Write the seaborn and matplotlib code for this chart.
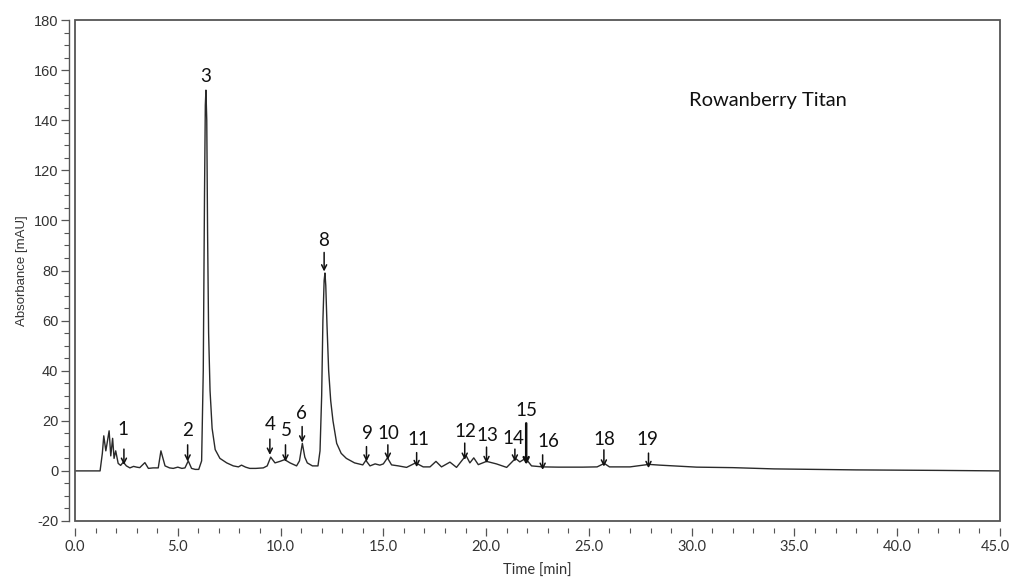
import numpy as np
import pandas as pd
import matplotlib
matplotlib.use("Agg")
import matplotlib.pyplot as plt
import matplotlib.transforms as mtransforms
from matplotlib.patches import Rectangle
from matplotlib.ticker import MultipleLocator, FormatStrFormatter
import seaborn as sns

# ---- trace vertices (time [min], absorbance [mAU]) ----
time_min = [0.0, 1.22, 1.33, 1.40, 1.50, 1.66, 1.74, 1.83, 1.90, 1.98, 2.10, 2.22, 2.35, 2.50,
            2.67, 2.85, 3.0, 3.15, 3.40, 3.57, 3.80, 4.05, 4.18, 4.38, 4.60, 4.78, 5.0, 5.20,
            5.35, 5.51, 5.67, 5.85, 6.02, 6.16, 6.24, 6.30, 6.34, 6.37, 6.41, 6.45, 6.50,
            6.57, 6.67, 6.82, 7.05, 7.38, 7.70, 7.95, 8.10, 8.30, 8.50, 8.80, 9.16, 9.35,
            9.52, 9.73, 9.97, 10.20, 10.46, 10.78, 10.92, 11.06, 11.18, 11.30, 11.55, 11.82,
            11.92, 12.00, 12.06, 12.12, 12.16, 12.20, 12.26, 12.34, 12.44, 12.55, 12.73,
            12.95, 13.20, 13.60, 14.00, 14.15, 14.35, 14.60, 14.83, 15.00, 15.20, 15.40,
            15.73, 16.13, 16.57, 16.94, 17.27, 17.56, 17.83, 18.24, 18.56, 19.02, 19.21,
            19.40, 19.62, 20.02, 20.50, 21.00, 21.43, 21.64, 21.92, 22.21, 22.75, 23.5,
            24.70, 25.40, 25.75, 26.00, 27.00, 27.92, 28.45, 30.24, 32.0, 34.0, 38.0, 42.0,
            45.0]
absorbance = [0.0, 0.0, 7.0, 14.0, 8.0, 16.0, 6.0, 13.0, 5.0, 8.0, 3.0, 2.2, 3.5, 2.0,
              1.2, 1.8, 1.5, 1.3, 3.3, 1.0, 1.2, 1.2, 8.0, 2.0, 1.2, 1.0, 1.5, 1.0,
              1.2, 4.0, 1.0, 0.6, 0.6, 4.0, 40.0, 110.0, 146.0, 152.0, 140.0, 95.0, 55.0,
              32.0, 17.0, 8.5, 5.0, 3.2, 2.0, 1.6, 2.3, 1.5, 1.0, 1.0, 1.2, 2.0,
              5.5, 3.2, 3.8, 4.5, 3.2, 2.0, 4.0, 11.0, 5.5, 3.2, 2.0, 2.0,
              8.0, 30.0, 60.0, 76.0, 79.0, 74.0, 58.0, 40.0, 28.0, 20.0, 11.0,
              7.0, 5.0, 3.2, 2.4, 4.2, 2.0, 2.8, 2.3, 2.8, 5.2, 2.4,
              2.0, 1.4, 3.2, 1.6, 1.6, 3.8, 1.6, 3.5, 1.4, 6.2, 3.2,
              5.2, 2.5, 3.8, 2.8, 1.4, 5.0, 3.6, 5.0, 2.0, 1.6, 1.5,
              1.5, 1.6, 3.0, 1.6, 1.6, 2.6, 2.3, 1.5, 1.3, 0.8, 0.4, 0.2,
              0.0]

# ---- peak annotations ----
peak_labels = ["1", "2", "3", "4", "5", "6", "8", "9", "10", "11", "12", "13",
               "14", "15", "16", "18", "19"]
label_x = [2.35, 5.46, 6.37, 9.48, 10.26, 11.04, 12.11, 14.22, 15.24, 16.70, 18.97,
           20.05, 21.35, 21.98, 23.05, 25.73, 27.85]
label_y = [16.7, 16.1, 157.6, 18.4, 16.1, 23.0, 92.0, 15.0, 15.0, 12.7, 15.7,
           14.0, 13.0, 24.0, 11.7, 12.7, 12.7]
arrow_x = [2.38, 5.48, None, 9.48, 10.24, 11.05, 12.12, 14.18, 15.22, 16.62, 18.96,
           20.02, 21.40, 21.95, 22.75, 25.73, 27.90]
arrow_top = [8.7, 10.4, None, 12.7, 10.4, 17.7, 87.2, 9.7, 10.4, 7.3, 11.1,
             9.5, 8.7, 19.0, 6.4, 8.4, 7.1]
arrow_tip = [2.4, 3.7, None, 6.4, 3.7, 11.3, 79.6, 3.7, 4.4, 1.5, 4.4,
             3.1, 3.7, 2.4, 0.4, 1.7, 1.1]

x_ticks = [0, 5, 10, 15, 20, 25, 30, 35, 40, 45]
y_ticks = [-20, 0, 20, 40, 60, 80, 100, 120, 140, 160, 180]
sample_name = "Rowanberry Titan"

df = pd.DataFrame({"Time": time_min, "Absorbance": absorbance})

sns.set_style("ticks")
plt.rcParams["font.family"] = ["Lato", "DejaVu Sans"]
plt.rcParams["axes.unicode_minus"] = False

fig = plt.figure(figsize=(10.12, 5.77), dpi=100)
ax = fig.add_axes([75 / 1012, 1 - 521 / 577, 925 / 1012, 501 / 577])

sns.lineplot(data=df, x="Time", y="Absorbance", ax=ax, color="#2a2a2a",
             linewidth=1.0, estimator=None, sort=False)

ax.set_xlim(0, 45)
ax.set_ylim(-20, 180)
ax.set_xticks(x_ticks)
ax.set_yticks(y_ticks)
ax.xaxis.set_major_formatter(FormatStrFormatter("%.1f"))
ax.xaxis.set_minor_locator(MultipleLocator(1))
ax.yaxis.set_minor_locator(MultipleLocator(5))

frame_col = "#555555"
for s in ["top", "right"]:
    ax.spines[s].set_visible(False)
ax.spines["left"].set_position(("outward", 4))
ax.spines["left"].set_color(frame_col)
ax.spines["left"].set_linewidth(1.0)
ax.spines["bottom"].set_position(("outward", 5))
ax.spines["bottom"].set_color("none")
ax.add_patch(Rectangle((0, 0), 1, 1, transform=ax.transAxes, fill=False,
                       edgecolor=frame_col, linewidth=1.3, clip_on=False, zorder=5))

ax.tick_params(axis="both", which="major", direction="out", length=6, width=0.9,
               color=frame_col, labelcolor="#333333")
ax.tick_params(axis="both", which="minor", direction="out", length=3.5, width=0.8,
               color=frame_col)
ax.tick_params(axis="y", labelsize=10.5, pad=2)
ax.tick_params(axis="x", labelsize=10.5, pad=3)
for lab in ax.get_yticklabels():
    lab.set_family(["Liberation Sans", "DejaVu Sans"])

# nudge the last x tick label so it stays inside the canvas
fig.canvas.draw()
last = ax.get_xticklabels()[-1]
last.set_transform(last.get_transform() +
                   mtransforms.ScaledTranslation(-3 / 72, 0, fig.dpi_scale_trans))

ax.set_xlabel("Time [min]", fontsize=10.5, color="#333333", labelpad=-1)
ax.xaxis.set_label_coords(0.5, -0.085)
ax.set_ylabel("Absorbance [mAU]", fontsize=9.5, color="#333333",
              family=["Liberation Sans", "DejaVu Sans"], labelpad=4)

for i, lab in enumerate(peak_labels):
    ax.text(label_x[i], label_y[i], lab, ha="center", va="center", fontsize=13.5,
            color="#111111")
    if arrow_x[i] is not None:
        lw = 1.8 if lab == "15" else 1.1
        ax.annotate("", xy=(arrow_x[i], arrow_tip[i]), xytext=(arrow_x[i], arrow_top[i]),
                    arrowprops=dict(arrowstyle="->", color="#111111", lw=lw,
                                    shrinkA=0, shrinkB=0, mutation_scale=9))

ax.text(29.86, 148, sample_name, ha="left", va="center", fontsize=14.5, color="#111111")

fig.savefig("out.png", dpi=100)
